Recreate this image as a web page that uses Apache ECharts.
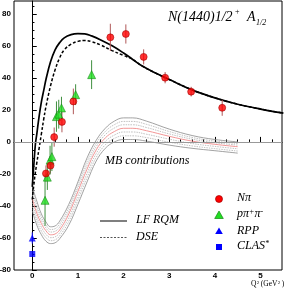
<!DOCTYPE html>
<html><head><meta charset="utf-8">
<script src="https://cdn.jsdelivr.net/npm/echarts@6.0.0/dist/echarts.min.js"></script>
<style>html,body{margin:0;padding:0;background:#fff}#c{width:284px;height:291px}</style>
</head><body><div id="c"></div>
<script>
// ---- data ----
const xTickLabels = [0, 1, 2, 3, 4, 5];
const yTickLabels = [-80, -60, -40, -20, 0, 20, 40, 60, 80];

// N pi
const npiQ2  = [0.30, 0.40, 0.48, 0.65, 0.90, 1.71, 2.05, 2.44, 2.91, 3.48, 4.16];
const npiA   = [-19.7, -14.8, 3.0, 12.5, 25.3, 65.3, 67.4, 53.1, 40.1, 31.4, 21.3];
const npiErr = [5, 5, 6, 6.5, 8, 8.5, 6, 4.7, 3.5, 3, 5];
// p pi+ pi-
const ppQ2  = [0.28, 0.33, 0.39, 0.43, 0.53, 0.58, 0.64, 0.95, 1.30];
const ppA   = [-36.5, -22, -11.4, -9.2, 15.8, 17.3, 21.2, 29.5, 42.0];
const ppErr = [16, 8, 9, 9, 9.5, 9, 7, 6.5, 9];
// RPP, CLAS
const rppQ2 = [0], rppA = [-60], rppErr = [3.5];
const clasQ2 = [0], clasA = [-70];

// LF RQM curve
const lfQ2 = [0, 0.03, 0.07, 0.1, 0.15, 0.2, 0.25, 0.3, 0.4, 0.5, 0.6, 0.7, 0.85, 1.0, 1.15, 1.3, 1.5, 1.75, 2.0, 2.2, 2.4, 2.7, 3.0, 3.5, 4.0, 4.5, 5.0, 5.5];
const lfA  = [-28, -16, -1, 5, 16, 25, 32, 39, 50, 57.5, 62, 65, 67, 67.6, 67.5, 66.2, 63.7, 60, 55.5, 51.5, 47.5, 43, 39, 32.5, 27.5, 23.5, 20.5, 18];
// DSE curve
const dseQ2 = [0, 0.05, 0.1, 0.15, 0.2, 0.25, 0.3, 0.4, 0.5, 0.6, 0.7, 0.85, 1.0, 1.15, 1.3, 1.5, 1.75, 2.0, 2.2, 2.4, 2.7, 3.0, 3.5, 4.0, 4.5, 5.0, 5.5];
const dseA  = [-36, -23, -13, -4, 5, 14, 22, 35, 45, 52.5, 57.5, 61, 62.8, 63.3, 62.6, 60.5, 57, 54, 51.5, 47.5, 43, 39, 32.5, 27.5, 23.5, 20.5, 18];

// MB contributions band
const bandQ2 = [0, 0.1, 0.2, 0.3, 0.4, 0.5, 0.6, 0.8, 1.0, 1.2, 1.4, 1.6, 1.8, 2.0, 2.2, 2.5, 3.0, 3.5, 4.0, 4.5];
const mbTop  = [-28, -37, -45, -50, -53, -52.5, -49.5, -39, -25, -10, 1, 8.5, 13, 15, 15, 13, 8, 4, 1.5, 0];
const mbU1   = [-30.5, -39.5, -47, -51.8, -54.7, -54.2, -51.3, -41, -27, -12.3, -1, 6.5, 10.8, 12.8, 12.8, 11, 6.5, 2.8, 0.5, -1];
const mbU2   = [-33, -42, -49, -53.7, -56.3, -55.8, -53.2, -43, -29, -14.7, -3, 4.5, 8.7, 10.7, 10.7, 9, 5, 1.7, -0.5, -2];
const mbMid  = [-35.5, -44.5, -51, -55.5, -58, -57.5, -55, -45, -31, -17, -5, 2.5, 6.5, 8.5, 8.5, 7, 3.5, 0.5, -1.5, -3];
const mbL1   = [-38, -47, -53.3, -57.7, -59.8, -59.3, -56.8, -47.3, -33.7, -19.7, -7.3, 0.3, 4.3, 6.2, 6.2, 4.8, 1.7, -1, -2.8, -4.3];
const mbL2   = [-40.5, -49.5, -55.7, -59.8, -61.7, -61.2, -58.7, -49.7, -36.3, -22.3, -9.7, -1.8, 2.2, 3.8, 3.8, 2.7, -0.2, -2.5, -4.2, -5.7];
const mbBot  = [-43, -52, -58, -62, -63.5, -63, -60.5, -52, -39, -25, -12, -4, 0, 1.5, 1.5, 0.5, -2, -4, -5.5, -7];

// ---- build chart ----
const zip = (a, b) => a.map((v, i) => [v, b[i]]);
const zip3 = (a, b, c) => a.map((v, i) => [v, b[i], c[i]]);
const XMIN = -0.4, XMAX = 5.47, YMIN = -80, YMAX = 88;

const xMinor = [], yMinor = [];
for (let v = -0.25; v <= 5.3; v += 0.25) xMinor.push(+v.toFixed(2));
for (let v = -80; v <= 85; v += 5) yMinor.push(v);

function errSeries(q, a, e, color) {
  return {
    type: 'custom', z: 3, silent: true,
    data: zip3(q, a, e),
    encode: { x: 0, y: 1 },
    renderItem: function (params, api) {
      const x = api.value(0), y = api.value(1), er = api.value(2);
      const p1 = api.coord([x, y - er]), p2 = api.coord([x, y + er]);
      return { type: 'line', shape: { x1: p1[0], y1: p1[1], x2: p2[0], y2: p2[1] },
               style: { stroke: color, lineWidth: 1 } };
    }
  };
}
function bandLine(arr, color, type, width) {
  return { type: 'line', data: zip(bandQ2, arr), showSymbol: false, symbol: 'none', smooth: 0.4,
           silent: true, z: 1, lineStyle: { color: color, width: width, type: type } };
}
function it(size) {
  return { fontFamily: 'Liberation Serif', fontStyle: 'italic', fontSize: size, fill: '#000' };
}
function txt(left, top, text, size, extra) {
  return { type: 'text', left: left, top: top, style: Object.assign({ text: text }, it(size), extra || {}) };
}

const labFont = { fontFamily: 'Liberation Sans', fontWeight: 'bold', fontSize: 8, color: '#000' };
const supRich = { s: { fontFamily: 'Liberation Serif', fontStyle: 'italic', fontSize: 8, verticalAlign: 'top', fill: '#000' } };

const option = {
  animation: false,
  grid: { left: 14, right: 2, top: 1, bottom: 21, show: true, borderColor: '#000', borderWidth: 1,
          containLabel: false, outerBoundsMode: 'none' },
  xAxis: [{
    type: 'value', min: XMIN, max: XMAX,
    axisLine: { lineStyle: { color: '#000', width: 1 } },
    axisTick: { inside: true, length: 5, customValues: xTickLabels, lineStyle: { color: '#000' } },
    axisLabel: Object.assign({ customValues: xTickLabels, margin: 2 }, labFont),
    splitLine: { show: false }
  }, {
    type: 'value', min: XMIN, max: XMAX, position: 'bottom', gridIndex: 0,
    axisLine: { show: false },
    axisTick: { inside: true, length: 2.5, customValues: xMinor, lineStyle: { color: '#000' } },
    axisLabel: { show: false }, splitLine: { show: false }
  }],
  yAxis: [{
    type: 'value', min: YMIN, max: YMAX,
    axisLine: { lineStyle: { color: '#000', width: 1 } },
    axisTick: { inside: true, length: 4.5, customValues: yTickLabels, lineStyle: { color: '#000' } },
    axisLabel: Object.assign({ customValues: yTickLabels, margin: 3 }, labFont),
    splitLine: { show: false }
  }, {
    type: 'value', min: YMIN, max: YMAX, position: 'left', gridIndex: 0,
    axisLine: { show: false },
    axisTick: { inside: true, length: 2.2, customValues: yMinor, lineStyle: { color: '#000' } },
    axisLabel: { show: false }, splitLine: { show: false }
  }],
  series: [
    bandLine(mbTop, '#8a8a8a', 'solid', 0.8),
    bandLine(mbU1, '#a8a8a8', [1.5, 1], 0.7),
    bandLine(mbU2, '#a8a8a8', [1.5, 1], 0.7),
    bandLine(mbMid, '#f08a8a', 'solid', 0.9),
    bandLine(mbL1, '#a8a8a8', [1.5, 1], 0.7),
    bandLine(mbL2, '#a8a8a8', [1.5, 1], 0.7),
    bandLine(mbBot, '#8a8a8a', 'solid', 0.8),
    {
      type: 'line', name: 'DSE', data: zip(dseQ2, dseA), symbol: 'none', smooth: 0.4, z: 2,
      lineStyle: { color: '#000', width: 1.5, type: [3, 2] },
      markLine: { silent: true, symbol: 'none', label: { show: false },
                  lineStyle: { color: '#999', width: 1, type: 'solid' }, data: [{ yAxis: 0 }] }
    },
    { type: 'line', name: 'LF RQM', data: zip(lfQ2, lfA), symbol: 'none', smooth: 0.4, z: 2,
      lineStyle: { color: '#000', width: 1.7 } },
    errSeries(npiQ2, npiA, npiErr, '#b05858'),
    errSeries(ppQ2, ppA, ppErr, '#3f8f3f'),
    errSeries(rppQ2, rppA, rppErr, '#2020ff'),
    { type: 'scatter', name: 'ppipi', data: zip(ppQ2, ppA), symbol: 'triangle', symbolSize: 8, z: 4,
      itemStyle: { color: '#22dd22', borderColor: '#138813', borderWidth: 0.7 } },
    { type: 'scatter', name: 'Npi', data: zip(npiQ2, npiA), symbol: 'circle', symbolSize: 7, z: 5,
      itemStyle: { color: '#ff0000', borderColor: '#a00000', borderWidth: 0.7 } },
    { type: 'scatter', name: 'RPP', data: zip(rppQ2, rppA), symbol: 'triangle', symbolSize: 7, z: 5,
      itemStyle: { color: '#0000ff' } },
    { type: 'scatter', name: 'CLAS', data: zip(clasQ2, clasA), symbol: 'rect', symbolSize: 6, z: 5,
      itemStyle: { color: '#0000ff' } }
  ],
  graphic: [
    // title
    txt(168, 10.5, 'N(1440)1/2', 14),
    txt(234.5, 8, '+', 8),
    txt(247, 10.5, 'A', 14),
    txt(256, 19, '1/2', 8),
    // MB label
    txt(105, 155, 'MB contributions', 12),
    // line legend
    { type: 'line', shape: { x1: 100, y1: 221, x2: 127, y2: 221 }, style: { stroke: '#555', lineWidth: 1.5 } },
    { type: 'line', shape: { x1: 100, y1: 237.5, x2: 127, y2: 237.5 }, style: { stroke: '#555', lineWidth: 1.2, lineDash: [2, 1.5] } },
    txt(136, 214, 'LF RQM', 12),
    txt(136, 230.5, 'DSE', 12),
    // marker legend
    { type: 'circle', shape: { cx: 219, cy: 199, r: 3.5 }, style: { fill: '#ff0000', stroke: '#a00000', lineWidth: 0.7 } },
    { type: 'polygon', shape: { points: [[219, 211], [223.3, 218.5], [214.7, 218.5]] }, style: { fill: '#22dd22', stroke: '#138813', lineWidth: 0.7 } },
    { type: 'polygon', shape: { points: [[219, 227.5], [222.8, 234], [215.2, 234]] }, style: { fill: '#0000ff' } },
    { type: 'rect', shape: { x: 216, y: 244, width: 6, height: 6 }, style: { fill: '#0000ff' } },
    txt(237, 192, 'Nπ', 12),
    txt(237, 208, 'pπ{s|+}π{s|-}', 12, { rich: supRich }),
    txt(237, 224.5, 'RPP', 12),
    txt(237, 240, 'CLAS{s|*}', 12, { rich: supRich }),
    // x axis title
    { type: 'text', left: 251, top: 280.5, style: {
        text: 'Q{s|2}(GeV{s|2})', fontFamily: 'Liberation Serif', fontSize: 7.5, fill: '#000',
        rich: { s: { fontFamily: 'Liberation Serif', fontSize: 5, verticalAlign: 'top', fill: '#000', padding: [0, 1.5, 0, 0.3] } } } }
  ]
};
const chart = echarts.init(document.getElementById('c'), null, { renderer: 'canvas' });
chart.setOption(option);
</script></body></html>
